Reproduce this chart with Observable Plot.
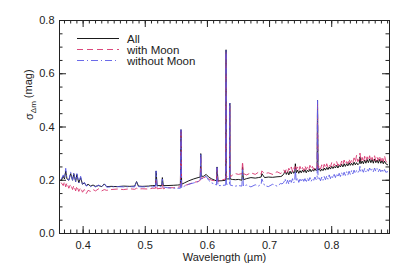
<!DOCTYPE html>
<html>
<head>
<meta charset="utf-8">
<script src="https://cdn.jsdelivr.net/npm/d3@7"></script>
<script src="https://cdn.jsdelivr.net/npm/@observablehq/plot@0.6"></script>
<style>
  html, body { margin: 0; padding: 0; background: #fff; }
  svg { display: block; }
</style>
</head>
<body>
<div id="chart"></div>
<script>
const wavelength = [0.365,0.368,0.370,0.372,0.374,0.377,0.380,0.383,0.385,0.388,0.390,0.393,0.396,0.399,0.402,0.405,0.408,0.412,0.416,0.420,0.425,0.430,0.434,0.438,0.445,0.455,0.465,0.475,0.483,0.486,0.489,0.495,0.505,0.512,0.5165,0.5175,0.519,0.5265,0.5275,0.529,0.535,0.545,0.552,0.5565,0.5575,0.5585,0.563,0.570,0.578,0.585,0.5885,0.5893,0.590,0.594,0.598,0.602,0.607,0.612,0.6145,0.6155,0.617,0.622,0.6295,0.630,0.6305,0.6325,0.6355,0.636,0.6365,0.640,0.645,0.650,0.6555,0.6565,0.658,0.663,0.670,0.677,0.682,0.6865,0.6875,0.692,0.698,0.705,0.712,0.718,
0.720,0.723,0.725,0.727,0.729,0.731,0.733,0.735,0.737,0.739,0.7405,0.7415,0.743,0.745,0.747,0.749,0.751,0.753,0.755,0.757,0.759,0.761,0.763,0.765,0.767,0.769,0.771,0.773,0.775,0.7765,0.7772,0.778,0.780,0.782,0.784,0.786,0.788,0.790,0.792,0.794,0.796,0.798,0.800,0.802,0.804,0.806,0.808,0.810,0.812,0.814,0.816,0.818,0.820,0.822,0.824,0.826,0.828,0.830,0.832,0.834,0.836,0.838,0.840,0.842,0.8445,0.8455,0.847,0.849,0.851,0.853,0.855,0.857,0.859,0.861,0.863,0.865,0.867,0.869,0.871,0.873,0.875,0.877,0.879,0.881,0.883,0.885,0.887,0.890];

const sigmaAll = [0.200,0.215,0.205,0.235,0.205,0.200,0.225,0.200,0.225,0.195,0.222,0.190,0.210,0.185,0.190,0.180,0.185,0.178,0.182,0.177,0.180,0.176,0.186,0.176,0.177,0.176,0.178,0.177,0.178,0.195,0.178,0.177,0.178,0.180,0.180,0.235,0.180,0.180,0.210,0.180,0.180,0.181,0.182,0.183,0.390,0.185,0.190,0.198,0.205,0.210,0.212,0.300,0.215,0.215,0.222,0.212,0.205,0.200,0.198,0.250,0.198,0.198,0.200,0.690,0.205,0.205,0.205,0.490,0.205,0.203,0.202,0.203,0.200,0.250,0.202,0.206,0.210,0.208,0.210,0.212,0.225,0.210,0.212,0.211,0.213,0.214,
0.216,0.224,0.236,0.222,0.232,0.220,0.234,0.224,0.236,0.226,0.230,0.262,0.228,0.238,0.226,0.236,0.228,0.238,0.230,0.240,0.228,0.238,0.232,0.242,0.232,0.240,0.234,0.244,0.236,0.240,0.500,0.238,0.244,0.234,0.242,0.236,0.246,0.238,0.248,0.240,0.250,0.242,0.252,0.244,0.252,0.246,0.256,0.246,0.256,0.250,0.260,0.250,0.262,0.252,0.262,0.254,0.266,0.256,0.264,0.256,0.268,0.258,0.266,0.258,0.264,0.288,0.262,0.272,0.262,0.276,0.264,0.278,0.266,0.280,0.266,0.278,0.264,0.280,0.266,0.276,0.264,0.278,0.264,0.274,0.262,0.272,0.262,0.258];

const sigmaWithMoon = [0.190,0.180,0.195,0.175,0.190,0.170,0.185,0.165,0.180,0.160,0.178,0.158,0.172,0.155,0.165,0.150,0.162,0.158,0.165,0.160,0.168,0.160,0.165,0.162,0.165,0.167,0.165,0.168,0.166,0.170,0.167,0.168,0.167,0.170,0.170,0.200,0.168,0.170,0.185,0.168,0.172,0.172,0.174,0.175,0.390,0.178,0.180,0.185,0.192,0.195,0.200,0.290,0.205,0.210,0.212,0.205,0.200,0.198,0.196,0.245,0.195,0.200,0.205,0.680,0.210,0.220,0.215,0.480,0.210,0.220,0.225,0.222,0.225,0.270,0.225,0.220,0.228,0.222,0.230,0.222,0.235,0.225,0.228,0.222,0.232,0.225,
0.232,0.238,0.228,0.242,0.230,0.245,0.236,0.250,0.232,0.246,0.238,0.258,0.240,0.250,0.236,0.252,0.238,0.248,0.236,0.254,0.240,0.250,0.238,0.256,0.242,0.252,0.240,0.250,0.244,0.246,0.495,0.244,0.256,0.242,0.258,0.244,0.260,0.246,0.262,0.248,0.258,0.250,0.266,0.252,0.262,0.254,0.270,0.254,0.266,0.256,0.272,0.258,0.276,0.260,0.270,0.262,0.280,0.264,0.276,0.266,0.284,0.268,0.294,0.270,0.280,0.302,0.272,0.286,0.268,0.290,0.272,0.288,0.274,0.292,0.272,0.286,0.274,0.292,0.272,0.286,0.274,0.292,0.272,0.288,0.270,0.292,0.272,0.265];

const sigmaWithoutMoon = [0.205,0.220,0.210,0.245,0.205,0.200,0.230,0.200,0.228,0.195,0.225,0.190,0.215,0.183,0.192,0.178,0.182,0.176,0.180,0.175,0.182,0.175,0.188,0.174,0.175,0.176,0.175,0.176,0.175,0.195,0.176,0.175,0.176,0.175,0.178,0.235,0.176,0.176,0.205,0.175,0.172,0.170,0.170,0.170,0.390,0.172,0.178,0.185,0.190,0.195,0.200,0.300,0.205,0.210,0.215,0.200,0.190,0.185,0.182,0.248,0.180,0.180,0.182,0.690,0.185,0.185,0.185,0.490,0.182,0.180,0.178,0.180,0.178,0.240,0.178,0.182,0.175,0.183,0.178,0.185,0.205,0.180,0.176,0.185,0.178,0.188,
0.186,0.192,0.205,0.188,0.200,0.186,0.204,0.192,0.206,0.190,0.200,0.242,0.196,0.208,0.192,0.204,0.194,0.208,0.196,0.206,0.192,0.208,0.198,0.210,0.196,0.206,0.200,0.212,0.202,0.206,0.500,0.204,0.210,0.198,0.212,0.200,0.214,0.202,0.216,0.204,0.220,0.206,0.218,0.208,0.222,0.210,0.224,0.212,0.226,0.214,0.228,0.216,0.230,0.218,0.232,0.220,0.234,0.222,0.236,0.224,0.238,0.226,0.236,0.228,0.236,0.252,0.232,0.240,0.230,0.244,0.232,0.242,0.234,0.246,0.234,0.242,0.232,0.246,0.234,0.244,0.232,0.242,0.232,0.242,0.230,0.240,0.230,0.232];

const seriesNames = ["All", "with Moon", "without Moon"];
const seriesColors = ["#000000", "#d8346e", "#5a5ae6"];
const seriesDash = [null, "6,4", "7,3,1,3"];
const xTicks = [0.4, 0.5, 0.6, 0.7, 0.8];
const yTicks = [0.0, 0.2, 0.4, 0.6, 0.8];
const xDomain = [0.362, 0.893];
const yDomain = [0, 0.8];

const xMinor = d3.range(37, 90).map(i => i / 100).filter(v => v >= xDomain[0] && v <= xDomain[1]);
const yMinor = d3.range(0, 17).map(i => i * 0.05);

const seriesValues = [sigmaAll, sigmaWithMoon, sigmaWithoutMoon];
const tables = seriesValues.map(vals => wavelength.map((w, i) => ({w, v: vals[i]})));

const W = 407, H = 271;
const mL = 59, mR = 18, mT = 20, mB = 38;
const ph = H - mT - mB, pw = W - mL - mR;
const font = "Liberation Sans, Arial, Helvetica, sans-serif";

const plot = Plot.plot({
  width: W, height: H,
  marginLeft: mL, marginRight: mR, marginTop: mT, marginBottom: mB,
  style: {fontFamily: font, fontSize: "11px", background: "#fff", color: "#222"},
  x: {domain: xDomain},
  y: {domain: yDomain},
  marks: [
    ...[0, 1, 2].map(s => Plot.lineY(tables[s], {
      x: "w", y: "v", stroke: seriesColors[s], strokeWidth: 0.9,
      strokeDasharray: seriesDash[s]
    })),
    // inward ticks
    Plot.tickX(xTicks, {x: d => d, insetTop: ph - 7, stroke: "#222"}),
    Plot.tickX(xTicks, {x: d => d, insetBottom: ph - 7, stroke: "#222"}),
    Plot.tickX(xMinor, {x: d => d, insetTop: ph - 3.5, stroke: "#222"}),
    Plot.tickX(xMinor, {x: d => d, insetBottom: ph - 3.5, stroke: "#222"}),
    Plot.tickY(yTicks, {y: d => d, insetRight: pw - 7, stroke: "#222"}),
    Plot.tickY(yTicks, {y: d => d, insetLeft: pw - 7, stroke: "#222"}),
    Plot.tickY(yMinor, {y: d => d, insetRight: pw - 3.5, stroke: "#222"}),
    Plot.tickY(yMinor, {y: d => d, insetLeft: pw - 3.5, stroke: "#222"}),
    Plot.frame({stroke: "#222", strokeWidth: 1}),
    Plot.axisX(xTicks, {tickSize: 0, tickPadding: 8, tickFormat: d3.format(".1f"), label: null, fontSize: 11}),
    Plot.axisY(yTicks, {tickSize: 0, tickPadding: 5, tickFormat: d3.format(".1f"), label: null, fontSize: 11}),
    Plot.text(["Wavelength (µm)"], {frameAnchor: "bottom", dy: 27, fontSize: 11, fill: "#222"}),
    Plot.text(["σΔm (mag)"], {frameAnchor: "left", dx: -30, dy: -7, rotate: -90, fontSize: 11, fill: "#222", className: "ylab"})
  ]
});

// subscript on the y label
d3.select(plot).selectAll(".ylab text").each(function() {
  const t = d3.select(this);
  t.text(null);
  t.append("tspan").text("σ");
  t.append("tspan").attr("dy", "0.35em").attr("font-size", "8px").text("Δm");
  t.append("tspan").attr("dy", "-0.35em").text(" (mag)");
});

// legend
const leg = d3.select(plot).append("g").attr("font-family", font).attr("font-size", 11.5).attr("text-anchor", "start");
seriesNames.forEach((name, i) => {
  const y = 38.5 + i * 11;
  leg.append("line").attr("x1", 77).attr("x2", 119).attr("y1", y).attr("y2", y)
    .attr("stroke", seriesColors[i]).attr("stroke-width", 0.9)
    .attr("stroke-dasharray", seriesDash[i]);
  leg.append("text").attr("x", 127).attr("y", y).attr("dy", "0.35em").attr("fill", "#222").attr("text-anchor", "start").text(name);
});

document.getElementById("chart").appendChild(plot);
</script>
</body>
</html>
